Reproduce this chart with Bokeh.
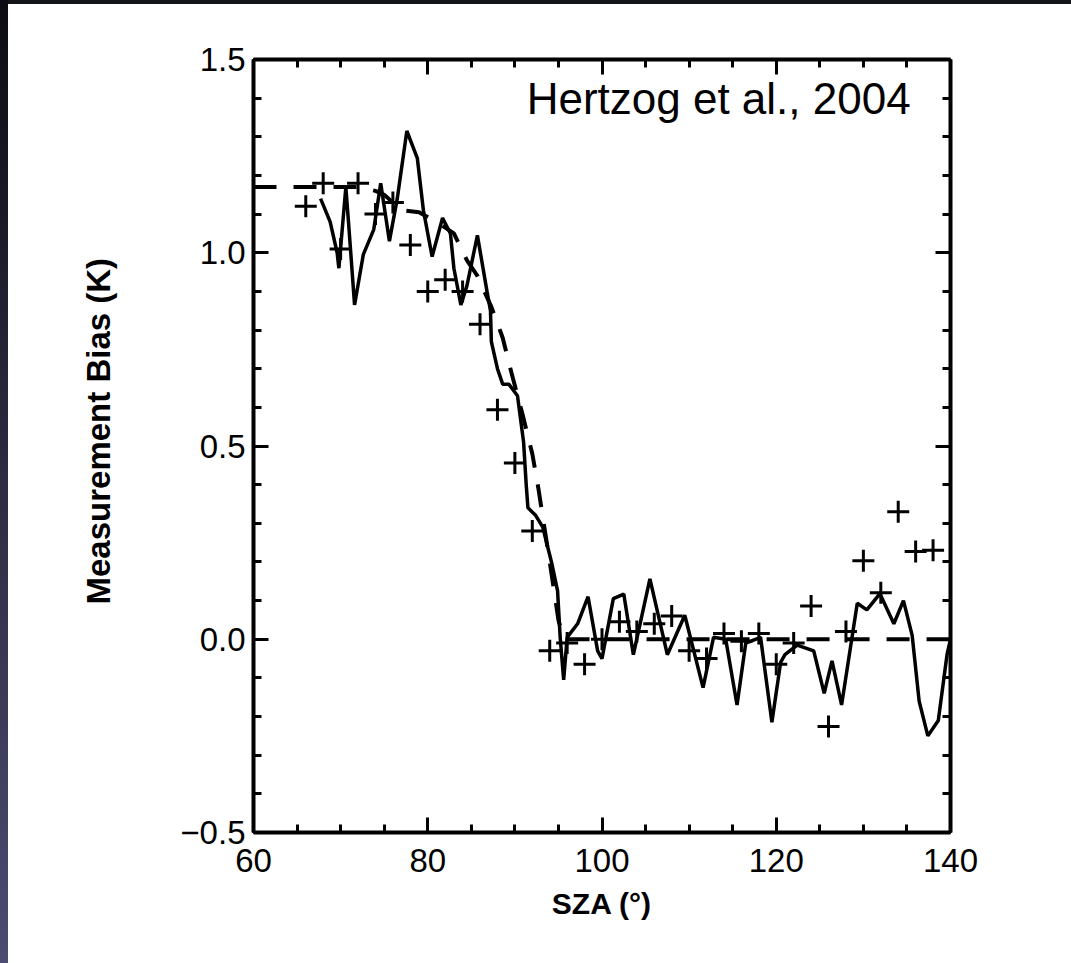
from bokeh.plotting import figure
from bokeh.models import LinearAxis, Range1d, Label, Div, CustomJSTickFormatter, FixedTicker, Title
from bokeh.layouts import row, column
from bokeh.embed import file_html
from bokeh.resources import INLINE

# ---- data ----
solid_x = [67.7, 68.8, 69.6, 69.8, 70.6, 71.0, 71.6, 72.6, 73.8, 74.6, 75.6, 76.5, 77.6, 78.8,
           79.5, 80.5, 81.7, 82.6, 83.0, 83.8, 84.5, 85.7, 86.8, 87.2, 87.3, 88.0, 88.6, 89.3,
           90.3, 91.0, 91.3, 91.5, 92.4, 93.2, 94.2, 94.9, 95.2, 95.6, 96.0, 97.2, 98.4, 99.5,
           100.0, 101.3, 102.5, 103.6, 105.5, 107.5, 109.5, 111.6, 112.8, 114.2, 115.5, 116.5,
           118.2, 119.5, 120.5, 121.0, 122.4, 124.3, 125.5, 126.4, 127.5, 129.3, 130.4, 131.9,
           133.5, 134.6, 135.6, 136.4, 137.4, 138.6, 139.6, 140.0]
solid_y = [1.14, 1.08, 1.00, 0.96, 1.17, 1.05, 0.865, 0.995, 1.06, 1.18, 1.03, 1.14, 1.315, 1.245,
           1.11, 0.99, 1.09, 1.05, 0.96, 0.865, 0.915, 1.045, 0.90, 0.85, 0.77, 0.70, 0.66, 0.66,
           0.63, 0.51, 0.40, 0.34, 0.32, 0.29, 0.20, 0.125, 0.005, -0.105, 0.005, 0.04, 0.11, -0.03,
           -0.05, 0.105, 0.117, -0.04, 0.156, -0.04, 0.062, -0.125, 0.005, 0.0, -0.17, -0.01,
           0.005, -0.215, -0.06, -0.04, -0.015, -0.03, -0.14, -0.056, -0.17, 0.093, 0.076, 0.118,
           0.04, 0.10, 0.01, -0.16, -0.25, -0.21, -0.04, 0.0]

dash_x = [60, 72, 74, 75, 76, 77, 79, 81, 83, 84.5, 85.7, 87.3, 88.6, 89.6, 90.9, 92.0, 92.7,
          94.0, 95.0, 95.6, 140]
dash_y = [1.17, 1.17, 1.16, 1.15, 1.13, 1.11, 1.105, 1.08, 1.05, 0.98, 0.94, 0.86, 0.78, 0.69,
          0.58, 0.48, 0.39, 0.20, 0.05, 0.0, 0.0]

plus_x = [66, 68, 70, 72, 74, 76, 78, 80, 82, 84, 86, 88, 90, 92, 94, 96, 98, 100, 102, 104,
          106, 108, 110, 112, 114, 116, 118, 120, 122, 124, 126, 128, 130, 132, 134, 136, 138]
plus_y = [1.12, 1.18, 1.01, 1.18, 1.10, 1.13, 1.02, 0.90, 0.93, 0.90, 0.815, 0.594, 0.456, 0.28,
          -0.03, -0.01, -0.065, 0.0, 0.045, 0.02, 0.04, 0.06, -0.03, -0.05, 0.015, -0.005, 0.015,
          -0.065, -0.01, 0.086, -0.226, 0.02, 0.203, 0.12, 0.33, 0.227, 0.23]

x_ticks = [60, 80, 100, 120, 140]
y_ticks = [-0.5, 0.0, 0.5, 1.0, 1.5]
y_tick_labels = ["\u22120.5", "0.0", "0.5", "1.0", "1.5"]
x_label = "SZA (\u00b0)"
y_label = "Measurement Bias (K)"
citation = "Hertzog et al., 2004"

FONT = "Liberation Sans"

p = figure(width=1063, height=959, output_backend="svg", toolbar_location=None,
           x_range=Range1d(60, 140), y_range=Range1d(-0.5, 1.5),
           min_border_left=245, min_border_right=121, min_border_top=55, min_border_bottom=131,
           x_axis_location=None, y_axis_location=None, margin=0)
p.background_fill_color = "white"
p.border_fill_color = "white"
p.outline_line_color = None
p.xgrid.visible = False
p.ygrid.visible = False

empty = CustomJSTickFormatter(code="return ''")

def style(ax, ticks, minor):
    ax.ticker = FixedTicker(ticks=ticks, minor_ticks=minor)
    ax.axis_line_width = 4
    ax.axis_line_color = "black"
    ax.major_tick_in = 15
    ax.major_tick_out = 0
    ax.minor_tick_in = 8
    ax.minor_tick_out = 0
    ax.major_tick_line_width = 3
    ax.minor_tick_line_width = 3
    ax.major_label_text_font = FONT
    ax.major_label_text_font_size = "33px"
    ax.major_label_text_color = "black"
    ax.axis_label_text_font = FONT
    ax.axis_label_text_font_style = "bold"
    ax.axis_label_text_color = "black"

x_minor = [v for v in range(60, 141, 5)]
y_minor = [round(-0.5 + 0.1 * i, 2) for i in range(21)]

xb = LinearAxis(axis_label=x_label)
style(xb, x_ticks, x_minor)
xb.major_label_standoff = 16
xb.axis_label_standoff = 12
xb.axis_label_text_font_size = "30px"
p.add_layout(xb, "below")

xt = LinearAxis(formatter=empty)
style(xt, x_ticks, x_minor)
p.add_layout(xt, "above")

yl = LinearAxis()
style(yl, y_ticks, y_minor)
yl.major_label_overrides = {t: s for t, s in zip(y_ticks, y_tick_labels)}
yl.major_label_standoff = 8
p.add_layout(yl, "left")

yr = LinearAxis(formatter=empty)
style(yr, y_ticks, y_minor)
p.add_layout(yr, "right")

# y-axis title as a side title so that it can be shifted along the axis
p.add_layout(Title(text=y_label, align="left", offset=228, standoff=122,
                   text_font=FONT, text_font_style="bold", text_font_size="33px",
                   text_color="black"), "left")

p.line(dash_x, dash_y, line_color="black", line_width=4, line_dash="23 17")
p.line(solid_x, solid_y, line_color="black", line_width=3.5)
p.scatter(plus_x, plus_y, marker="cross", size=22, line_color="black", line_width=3)

p.add_layout(Label(x=91.35, y=1.398, text=citation, text_font=FONT,
                   text_font_size="44px", text_color="black",
                   text_align="left", text_baseline="alphabetic"))

left_strip = Div(text="", width=8, height=963, margin=0,
                 styles={"background": "linear-gradient(to bottom, #0c0c12, #4c4c72)"})
top_strip = Div(text="", width=1063, height=4, margin=0, styles={"background": "#13131a"})
layout = row(left_strip, column(top_strip, p, spacing=0), spacing=0)

open("out.html", "w").write(file_html(layout, INLINE))
